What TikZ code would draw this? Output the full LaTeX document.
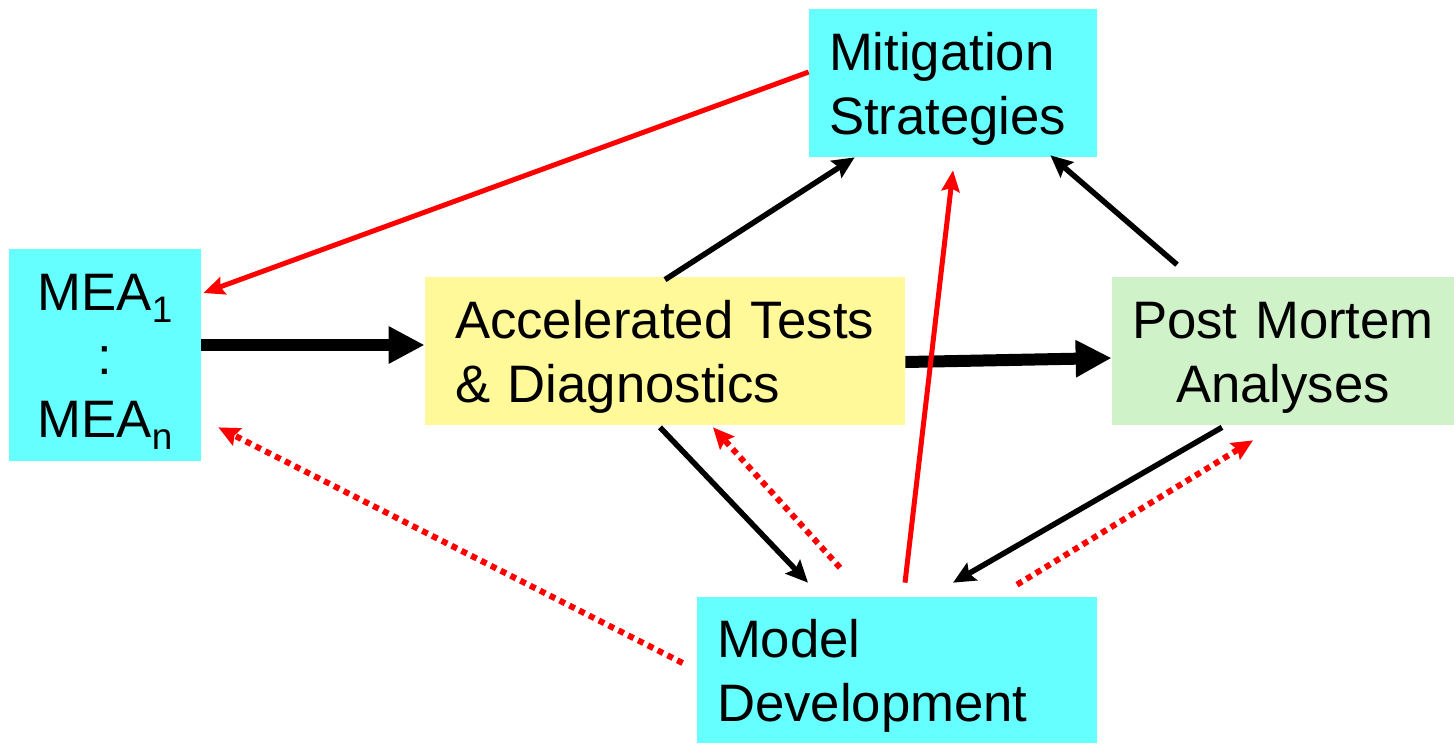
\documentclass[tikz,border=0pt]{standalone}
\usepackage{fontspec}
\setmainfont{Liberation Sans}
\usetikzlibrary{calc,arrows.meta}
\definecolor{boxcyan}{RGB}{102,255,255}
\definecolor{boxyellow}{RGB}{255,249,153}
\definecolor{boxgreen}{RGB}{208,242,200}
\definecolor{linkred}{RGB}{255,0,0}
\newcommand{\meaidx}[1]{\raisebox{-0.24cm}{\fontsize{21}{21}\selectfont #1}}
\tikzset{
  stagebox/.style={inner ysep=0pt, font=\fontsize{30}{36}\selectfont,
    execute at begin node={\rule{0pt}{1.0cm}}},
  bigflow/.style={line width=0.24cm, -{Triangle[length=0.72cm, width=0.70cm]}},
  flow/.style={line width=0.11cm, -{Stealth[length=0.44cm, width=0.40cm, inset=0.07cm]}},
  feedback/.style={draw=linkred, line width=0.10cm, -{Stealth[length=0.42cm, width=0.36cm, inset=0.06cm]}},
  modelfeed/.style={draw=linkred, line width=0.12cm, dash pattern=on 0.12cm off 0.1cm,
    -{Stealth[length=0.42cm, width=0.38cm, inset=0.06cm, fill=linkred]}}
}

\begin{document}
\begin{tikzpicture}

  \useasboundingbox (0,0) rectangle (29.08,-14.86);

  % =======================
  % Boxes
  % =======================
  \node[stagebox, fill=boxcyan, minimum height=4.24cm, inner xsep=0.4cm, text width=3.04cm, align=center]
    (mea) at (2.10,-7.10) {MEA\meaidx{1}\\:\\MEA\meaidx{n}};
  \node[stagebox, fill=boxcyan, minimum height=2.96cm, inner xsep=0.4cm, text width=4.96cm, align=left]
    (mitig) at (19.06,-1.66) {Mitigation\\Strategies};
  \node[stagebox, fill=boxyellow, minimum height=2.96cm, inner xsep=0.6cm, text width=8.40cm, align=left]
    (accel) at (13.30,-7.02) {Accelerated Tests\\\& Diagnostics};
  \node[stagebox, fill=boxgreen, minimum height=2.96cm, inner xsep=0.4cm, text width=6.04cm, align=center]
    (post) at (25.66,-7.02) {Post Mortem\\Analyses};
  \node[stagebox, fill=boxcyan, minimum height=2.92cm, inner xsep=0.4cm, text width=7.20cm, align=left]
    (model) at (17.94,-13.40) {Model\\Development};

  % =======================
  % Main test chain
  % =======================
  \draw[bigflow] ($(mea.east)+(0,0.20)$) -- ($(accel.west)+(0,0.12)$);
  \draw[bigflow] ($(accel.east)+(0,-0.22)$) -- ($(post.west)+(0,-0.14)$);

  % =======================
  % Black links
  % =======================
  \draw[flow] ($(accel.north)+(0,-0.06)$) -- ($(mitig.south west)+(0.92,0)$);
  \draw[flow] ($(post.north)+(-2.12,0.24)$) -- ($(mitig.south east)+(-0.94,0.04)$);
  \draw[flow] ($(accel.south)+(-0.10,-0.04)$) -- ($(model.north)+(-1.78,0.28)$);
  \draw[flow] ($(post.south)+(-1.22,-0.04)$) -- ($(model.north)+(1.12,0.28)$);

  % =======================
  % Red links
  % =======================
  \draw[feedback] ($(mitig.west)+(0,0.22)$) -- ($(mea.east)+(0.04,1.24)$);
  \draw[feedback] ($(model.north)+(0.16,0.28)$) -- ($(mitig.south)+(0,-0.26)$);

  % Dotted model feedback
  \draw[modelfeed] ($(model.north)+(-1.14,0.58)$) -- ($(accel.south)+(0.96,-0.04)$);
  \draw[modelfeed] ($(model.north)+(2.40,0.24)$) -- ($(post.south)+(-0.60,-0.30)$);
  \draw[modelfeed] ($(model.west)+(-0.28,0.14)$) -- ($(mea.south east)+(0.34,0.68)$);

\end{tikzpicture}
\end{document}
